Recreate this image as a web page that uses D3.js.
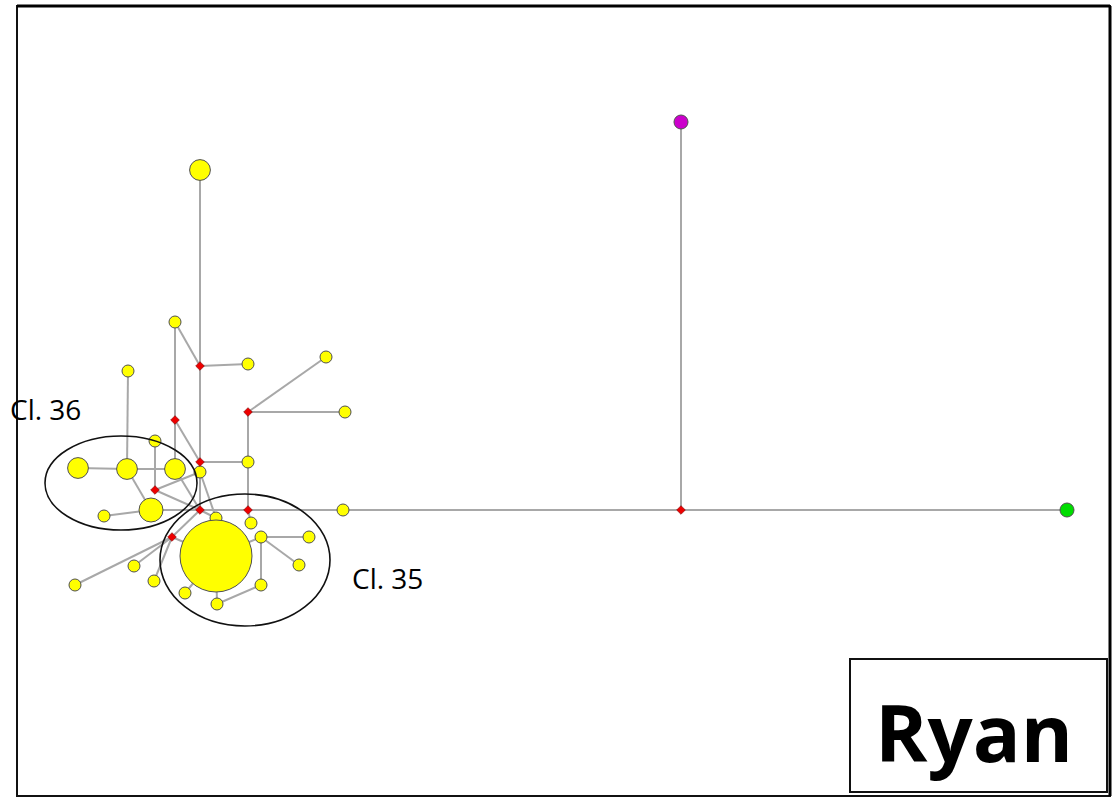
<!DOCTYPE html>
<html>
<head>
<meta charset="utf-8">
<script src="https://cdn.jsdelivr.net/npm/d3@7"></script>
<style>
  html, body { margin: 0; padding: 0; background: #fff; }
  svg { display: block; }
</style>
</head>
<body>
<svg id="chart" width="1113" height="798"></svg>
<script>
// ---------- DATA (network layout units) ----------
// haplotype nodes: id, x, y, frequency, type (hap / median / outgroup colours)
const nodeIds   = ["Y1","Y2","R1","Y3","R2","Y4","Y5","R3","Y6","R4","Y7","Y8","Y9","Y10","Y11","Y12","R5","Y13","Y14","R6","R7","Y15","R8","G","M","Y16","Y17","BIG","R9","Y18","Y19","Y20","Y21","Y22","Y23","Y24","Y25","Y26"];
const nodeX     = [183,158,183,231,158,111,138,183,231,231,309,328,61,110,158,183,138,134,87,183,231,326,664,1050,664,199,234,199,155,244,292,282,244,200,168,117,58,137];
const nodeY     = [164,316,360,358,414,365,435,456,456,406,351,406,462,463,463,466,484,504,510,504,504,504,504,504,116,512,517,550,531,531,531,559,579,598,587,560,579,575];
const nodeFreq  = [3,1,0,1,0,1,1,0,1,0,1,1,3,3,3,1,0,4,1,0,0,1,0,1,1,1,1,36,0,1,1,1,1,1,1,1,1,1];
const nodeType  = ["hap","hap","median","hap","median","hap","hap","median","hap","median","hap","hap","hap","hap","hap","hap","median","hap","hap","median","median","hap","median","green","magenta","hap","hap","hap","median","hap","hap","hap","hap","hap","hap","hap","hap","hap"];

const edgeSource = ["Y1","Y2","R1","Y2","R1","R2","R2","Y4","Y5","Y9","Y10","Y10","Y14","R5","R5","R3","R4","R4","R4","Y6","R3","Y13","R6","R7","Y15","R8","R8","R6","Y16","R7","R9","R9","R9","R9","R9","BIG","Y18","Y18","Y18","Y21","BIG","BIG","Y11","Y12"];
const edgeTarget = ["R1","R1","Y3","R2","R3","R3","Y11","Y10","R5","Y10","Y11","Y13","Y13","Y12","R6","Y6","Y6","Y7","Y8","R7","R6","R6","R7","Y15","R8","G","M","Y16","BIG","Y17","R6","BIG","Y25","Y24","Y26","Y18","Y19","Y20","Y21","Y22","Y22","Y23","R6","Y16"];

const clusterNames = ["Cl. 36", "Cl. 35"];
const clusterCx    = [104, 228];
const clusterCy    = [477, 554];
const clusterRx    = [76, 85];
const clusterRy    = [47, 66];
const clusterLabelX = [-7, 335];
const clusterLabelY = [414, 583];

const panelTitle = "Ryan";

// ---------- SCALES ----------
const x = d3.scaleLinear().domain([0, 1093]).range([17, 1110]);
const y = d3.scaleLinear().domain([0, 790]).range([6, 796]);
const r = d3.scaleSqrt().domain([0, 36]).range([0, 36]);

const colour = { hap: "#ffff00", green: "#00dd00", magenta: "#cc00cc", median: "#ee0000" };

const nodes = nodeIds.map((id, i) => ({ id, x: nodeX[i], y: nodeY[i], f: nodeFreq[i], t: nodeType[i] }));
const byId = new Map(nodes.map(n => [n.id, n]));
const edges = edgeSource.map((s, i) => ({ s: byId.get(s), t: byId.get(edgeTarget[i]) }));

const svg = d3.select("#chart");

// frame
svg.append("rect")
  .attr("x", x(0)).attr("y", y(0))
  .attr("width", x(1093) - x(0)).attr("height", y(790) - y(0))
  .attr("fill", "#fff").attr("stroke", "#111").attr("stroke-width", 2);
svg.append("line")
  .attr("x1", x(0)).attr("x2", x(1093)).attr("y1", y(0)).attr("y2", y(0))
  .attr("stroke", "#000").attr("stroke-width", 3);
svg.append("line")
  .attr("x1", x(1093)).attr("x2", x(1093)).attr("y1", y(0)).attr("y2", y(790))
  .attr("stroke", "#000").attr("stroke-width", 3);

// edges
svg.append("g").selectAll("line").data(edges).join("line")
  .attr("x1", d => x(d.s.x)).attr("y1", d => y(d.s.y))
  .attr("x2", d => x(d.t.x)).attr("y2", d => y(d.t.y))
  .attr("stroke", "#a8a8a8").attr("stroke-width", 2);

// nodes
const g = svg.append("g");
g.selectAll("circle").data(nodes.filter(n => n.t !== "median")).join("circle")
  .attr("cx", d => x(d.x)).attr("cy", d => y(d.y))
  .attr("r", d => d.t === "hap" ? r(d.f) : r(d.f) + 1)
  .attr("fill", d => colour[d.t])
  .attr("stroke", "#505050").attr("stroke-width", 1);

g.selectAll("path").data(nodes.filter(n => n.t === "median")).join("path")
  .attr("d", d3.symbol(d3.symbolDiamond2, 48))
  .attr("transform", d => `translate(${x(d.x)},${y(d.y)})`)
  .attr("fill", colour.median)
  .attr("stroke", "#7a0000").attr("stroke-width", 0.6);

// cluster ellipses
svg.append("g").selectAll("ellipse").data(clusterNames).join("ellipse")
  .attr("cx", (d, i) => x(clusterCx[i])).attr("cy", (d, i) => y(clusterCy[i]))
  .attr("rx", (d, i) => clusterRx[i]).attr("ry", (d, i) => clusterRy[i])
  .attr("fill", "none").attr("stroke", "#111").attr("stroke-width", 1.6);

svg.append("g").selectAll("text").data(clusterNames).join("text")
  .attr("x", (d, i) => x(clusterLabelX[i])).attr("y", (d, i) => y(clusterLabelY[i]))
  .attr("font-family", "'Open Sans', sans-serif").attr("font-size", 28)
  .attr("fill", "#000").text(d => d);

// title box
svg.append("rect")
  .attr("x", 850).attr("y", 659).attr("width", 257).attr("height", 133)
  .attr("fill", "#fff").attr("stroke", "#111").attr("stroke-width", 2);
const t = svg.append("text")
  .attr("x", 974).attr("y", 762).attr("text-anchor", "middle")
  .attr("font-family", "'Open Sans', sans-serif").attr("font-weight", 700)
  .attr("font-size", 86).attr("fill", "#000").text(panelTitle);
const w = t.node().getComputedTextLength();
t.attr("font-size", 86 * 198 / w);
</script>
</body>
</html>
